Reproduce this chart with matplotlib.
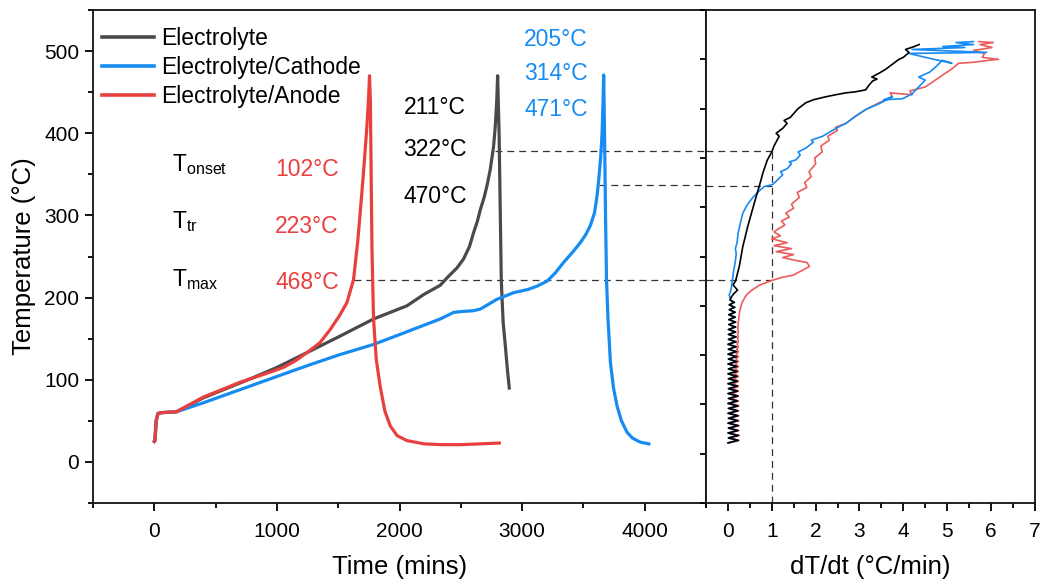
import matplotlib
matplotlib.use('Agg')
import matplotlib.pyplot as plt
import numpy as np
from matplotlib.ticker import MultipleLocator, NullFormatter
from matplotlib.lines import Line2D

plt.rcParams['font.family'] = ['Liberation Sans', 'DejaVu Sans']
plt.rcParams['mathtext.fontset'] = 'custom'
plt.rcParams['mathtext.rm'] = 'Liberation Sans'
plt.rcParams['mathtext.it'] = 'Liberation Sans'

# ---------------- data: temperature vs time (left panel) ----------------
series_names = ["Electrolyte", "Electrolyte/Cathode", "Electrolyte/Anode"]

elec_time = [0, 5, 15, 30, 60, 180, 400, 781, 1000, 1244, 1500, 1788, 2060, 2200, 2332,
             2400, 2468, 2522, 2570, 2604, 2635, 2659, 2690, 2713, 2740, 2767, 2781, 2793,
             2800, 2812, 2822, 2830, 2845, 2863, 2880, 2895]
elec_temp = [25, 26, 50, 59, 60, 61, 78, 101, 115, 133, 152, 174, 190, 204, 215,
             226, 236, 247, 262, 279, 293, 307, 322, 336, 356, 384, 409, 440,
             470, 400, 300, 220, 170, 141, 112, 90]

cath_time = [0, 5, 15, 30, 60, 180, 400, 700, 1000, 1244, 1500, 1788, 2000, 2332, 2441,
             2500, 2600, 2659, 2795, 2931, 3050, 3122, 3203, 3270, 3339, 3410, 3475, 3520,
             3557, 3590, 3611, 3625, 3640, 3652, 3660, 3665, 3672, 3680, 3688, 3700, 3720,
             3745, 3774, 3810, 3856, 3900, 3965, 4033]
cath_temp = [25, 26, 50, 59, 60, 61, 72, 88, 104, 117, 130, 143, 155, 174, 182,
             183, 184, 186, 198, 206, 210, 214, 220, 230, 243, 255, 267, 277,
             288, 303, 324, 344, 370, 400, 440, 471, 400, 300, 222, 175, 121,
             90, 68, 50, 36, 29, 24, 22]

anod_time = [0, 5, 15, 30, 60, 180, 400, 700, 900, 1053, 1150, 1244, 1350, 1434, 1510,
             1571, 1625, 1660, 1693, 1715, 1734, 1748, 1755, 1762, 1770, 1775, 1788, 1810,
             1842, 1880, 1924, 1980, 2060, 2200, 2350, 2500, 2659, 2814]
anod_temp = [25, 26, 50, 59, 60, 61, 79, 97, 107, 115, 123, 133, 145, 161, 178,
             194, 222, 270, 328, 370, 409, 445, 470, 440, 330, 260, 174, 125,
             92, 62, 44, 32, 26, 22, 21, 21, 22, 23]

# ---------------- data: temperature vs dT/dt (right panel) ----------------
# heat-wait-seek part (shared temperature steps)
hws_temp = [61, 63.5, 66, 68.5, 71, 73.5, 76, 78.5, 81, 83.5,
            86, 88.5, 91, 93.5, 96, 98.5, 101, 103.5, 106, 108.5,
            111, 113.5, 116, 118.5, 121, 123.5, 126, 128.5, 131, 133.5,
            136, 138.5, 141, 143.5, 146, 148.5, 151, 153.5, 156, 158.5,
            161, 163.5, 166, 168.5, 171, 173.5, 176, 178.5, 181, 183.5,
            186, 188.5, 191, 193.5, 196, 198.5, 201, 203.5, 206]
elec_hws_rate = [0.00, 0.24, 0.01, 0.24, 0.00, 0.23, 0.01, 0.24, 0.00, 0.23,
                 0.01, 0.23, 0.00, 0.23, 0.01, 0.23, 0.00, 0.22, 0.01, 0.23,
                 0.00, 0.22, 0.01, 0.22, 0.00, 0.22, 0.01, 0.21, 0.00, 0.21,
                 0.01, 0.21, 0.00, 0.20, 0.01, 0.20, 0.00, 0.20, 0.01, 0.19,
                 0.00, 0.19, 0.01, 0.19, 0.01, 0.18, 0.01, 0.18, 0.02, 0.18,
                 0.02, 0.17, 0.02, 0.17, 0.03, 0.16, 0.03, 0.15, 0.05]
cath_hws_rate = [0.02, 0.21, 0.02, 0.21, 0.02, 0.20, 0.03, 0.21, 0.02, 0.20,
                 0.03, 0.20, 0.02, 0.20, 0.03, 0.20, 0.02, 0.19, 0.03, 0.20,
                 0.02, 0.19, 0.03, 0.19, 0.02, 0.19, 0.03, 0.18, 0.02, 0.18,
                 0.03, 0.18, 0.02, 0.18, 0.03, 0.17, 0.02, 0.17, 0.03, 0.17,
                 0.02, 0.16, 0.03, 0.16, 0.03, 0.16, 0.03, 0.15, 0.03, 0.15,
                 0.03, 0.14, 0.03, 0.14, 0.04, 0.13, 0.04, 0.12, 0.05]
anod_hws_rate = [0.03, 0.25, 0.04, 0.26, 0.03, 0.25, 0.04, 0.25, 0.03, 0.25,
                 0.05, 0.25, 0.05, 0.24, 0.06, 0.25, 0.07, 0.24, 0.08, 0.24,
                 0.10, 0.24, 0.11, 0.24, 0.12, 0.24, 0.14, 0.24, 0.15, 0.24,
                 0.16, 0.24, 0.17, 0.24, 0.18, 0.24, 0.19, 0.24, 0.20, 0.24,
                 0.21, 0.24, 0.22, 0.24, 0.22, 0.24, 0.23]

elec_rate_tail = [(0.08, 209), (0.13, 212), (0.22, 216), (0.12, 221), (0.18, 226), (0.26, 240),
                  (0.34, 260), (0.45, 280), (0.55, 296), (0.62, 307), (0.72, 322), (0.80, 335),
                  (0.90, 348), (1.00, 356), (1.05, 362), (1.17, 372), (1.10, 375), (1.25, 380),
                  (1.35, 385), (1.28, 388), (1.42, 391), (1.48, 394), (1.60, 400), (1.78, 406),
                  (1.95, 409), (2.23, 412), (2.45, 414), (2.69, 416), (2.90, 417), (3.14, 419),
                  (3.22, 424), (3.30, 428), (3.40, 430), (3.28, 432), (3.45, 436), (3.60, 440),
                  (3.75, 445), (3.90, 450), (4.00, 452), (4.13, 457), (4.05, 460), (4.25, 463),
                  (4.36, 465)]
cath_rate_tail = [(0.05, 208), (0.03, 211), (0.07, 216), (0.10, 225), (0.13, 235), (0.17, 245),
                  (0.19, 253), (0.17, 258), (0.21, 264), (0.23, 273), (0.28, 283), (0.34, 294),
                  (0.45, 303), (0.57, 310), (0.70, 316), (0.83, 321), (1.02, 323), (1.14, 328),
                  (1.25, 333), (1.20, 336), (1.35, 339), (1.45, 344), (1.40, 346), (1.55, 348),
                  (1.65, 353), (1.60, 356), (1.78, 360), (1.95, 366), (1.90, 368), (2.16, 372),
                  (2.39, 378), (2.55, 382), (2.69, 385), (2.90, 392), (3.14, 399), (3.45, 405),
                  (3.75, 412), (3.55, 409), (3.98, 410), (4.20, 415), (4.50, 429), (4.35, 432),
                  (4.60, 437), (4.73, 442), (4.89, 449), (5.11, 446), (4.50, 452), (4.13, 456),
                  (5.90, 457), (4.20, 460), (5.40, 462), (4.90, 463), (5.60, 465), (5.20, 467),
                  (5.60, 468)]
anod_rate_tail = [(0.23, 180), (0.25, 188), (0.27, 195), (0.32, 203), (0.42, 211), (0.55, 216),
                  (0.72, 221), (1.02, 226), (1.25, 229), (1.48, 231), (1.70, 236), (1.86, 240),
                  (1.80, 244), (1.55, 246), (1.25, 249), (1.50, 252), (1.10, 255), (1.45, 258),
                  (1.05, 261), (1.35, 264), (1.00, 268), (1.20, 271), (1.05, 275), (1.15, 278),
                  (1.30, 282), (1.22, 286), (1.40, 290), (1.32, 294), (1.50, 299), (1.45, 303),
                  (1.63, 310), (1.58, 315), (1.80, 320), (1.75, 325), (1.90, 331), (1.85, 336),
                  (2.00, 344), (1.98, 350), (2.15, 356), (2.12, 362), (2.31, 368), (2.28, 372),
                  (2.50, 378), (2.45, 381), (2.69, 385), (2.90, 392), (3.14, 399), (3.45, 406),
                  (3.75, 412), (3.70, 416), (4.20, 414), (4.15, 418), (4.50, 422), (4.70, 428),
                  (4.96, 436), (5.10, 440), (5.26, 446), (5.60, 447), (5.95, 449), (6.17, 450),
                  (5.80, 452), (5.85, 456), (5.60, 459), (6.02, 462), (5.75, 465), (6.05, 467),
                  (5.72, 468)]

# annotation values
row_labels = ["T$_{\\mathrm{onset}}$", "T$_{\\mathrm{tr}}$", "T$_{\\mathrm{max}}$"]
anod_vals = ["102°C", "223°C", "468°C"]
elec_vals = ["211°C", "322°C", "470°C"]
cath_vals = ["205°C", "314°C", "471°C"]

# guide lines
guide_temp_left = [378, 337, 221]
guide_time_start = [2780, 3625, 1625]
guide_temp_right = [357, 322, 226]

# ---------------- style ----------------
C_BLK = '#4a4a4a'
C_BLUE = '#168bf2'
C_RED = '#e8403f'
C_RED2 = '#ec5c5c'

fig = plt.figure(figsize=(10.44, 5.83), dpi=100)
ax = fig.add_axes([0.0891, 0.1372, 0.5872, 0.8456])
ax2 = fig.add_axes([0.6762, 0.1372, 0.3151, 0.8456])

for a in (ax, ax2):
    for s in a.spines.values():
        s.set_linewidth(1.3)
        s.set_color('#111111')

# left panel
ax.plot(elec_time, elec_temp, color=C_BLK, lw=2.3, solid_joinstyle='round', zorder=3)
ax.plot(cath_time, cath_temp, color=C_BLUE, lw=2.3, solid_joinstyle='round', zorder=3)
ax.plot(anod_time, anod_temp, color=C_RED, lw=2.3, solid_joinstyle='round', zorder=4)

dash_kw = dict(color='#333333', lw=0.9, dashes=(5.5, 4), zorder=2)
for yv, xs in zip(guide_temp_left, guide_time_start):
    ax.plot([xs, 4500], [yv, yv], **dash_kw)

ax.set_xlim(-500, 4500)
ax.set_ylim(-50, 550)
ax.xaxis.set_major_locator(MultipleLocator(1000))
ax.xaxis.set_minor_locator(MultipleLocator(500))
ax.yaxis.set_major_locator(MultipleLocator(100))
ax.yaxis.set_minor_locator(MultipleLocator(50))
ax.tick_params(which='major', direction='out', length=6, width=1.3, labelsize=15)
ax.tick_params(axis='x', which='major', pad=8)
ax.tick_params(axis='y', which='major', pad=4)
ax.tick_params(which='minor', direction='out', length=3.5, width=1.3)
ax.set_xlabel("Time (mins)", fontsize=18.5, labelpad=10)
ax.set_ylabel("Temperature (°C)", fontsize=18.5, labelpad=6)

handles = [Line2D([], [], color=C_BLK, lw=2.6),
           Line2D([], [], color=C_BLUE, lw=2.6),
           Line2D([], [], color=C_RED, lw=2.6)]
ax.legend(handles, series_names, loc='upper left', bbox_to_anchor=(0.014, 0.965),
          frameon=False, fontsize=16.5, handlelength=2.3, handletextpad=0.3,
          labelspacing=0.26, borderaxespad=0, borderpad=0)

txt_kw = dict(fontsize=16.5, va='baseline', ha='left')
for lab, yv in zip(row_labels, [354, 285, 214]):
    ax.text(144, yv, lab, color='black', **txt_kw)
for v, yv in zip(anod_vals, [348, 279, 211]):
    ax.text(985, yv, v, color=C_RED, **txt_kw)
for v, yv in zip(elec_vals, [423, 372, 315]):
    ax.text(2033, yv, v, color='black', **txt_kw)
for v, yv in zip(cath_vals, [506, 465, 421]):
    ax.text(3018, yv, v, color=C_BLUE, **txt_kw)

# right panel
anod_r = list(anod_hws_rate) + [p[0] for p in anod_rate_tail]
anod_t = list(hws_temp[:len(anod_hws_rate)]) + [p[1] for p in anod_rate_tail]
cath_r = list(cath_hws_rate) + [p[0] for p in cath_rate_tail]
cath_t = list(hws_temp) + [p[1] for p in cath_rate_tail]
elec_r = list(elec_hws_rate) + [p[0] for p in elec_rate_tail]
elec_t = list(hws_temp) + [p[1] for p in elec_rate_tail]

ax2.plot(anod_r, anod_t, color=C_RED2, lw=1.2, zorder=3)
ax2.plot(cath_r, cath_t, color=C_BLUE, lw=1.2, zorder=4)
ax2.plot(elec_r, elec_t, color='black', lw=1.2, zorder=5)

for yv in guide_temp_right:
    ax2.plot([-0.5, 1.0], [yv, yv], **dash_kw)
ax2.plot([1.0, 1.0], [0, max(guide_temp_right)], **dash_kw)

ax2.set_xlim(-0.5, 7)
ax2.set_ylim(0, 500)
ax2.xaxis.set_major_locator(MultipleLocator(1))
ax2.xaxis.set_minor_locator(MultipleLocator(0.5))
ax2.yaxis.set_major_locator(MultipleLocator(50))
ax2.yaxis.set_major_formatter(NullFormatter())
ax2.tick_params(axis='x', which='major', direction='out', length=6, width=1.3, labelsize=15, pad=8)
ax2.tick_params(axis='x', which='minor', direction='out', length=3.5, width=1.3)
ax2.tick_params(axis='y', which='major', direction='out', length=4, width=1.3)
ax2.set_xlabel("dT/dt (°C/min)", fontsize=18.5, labelpad=10)

fig.savefig('out.png', dpi=100)
